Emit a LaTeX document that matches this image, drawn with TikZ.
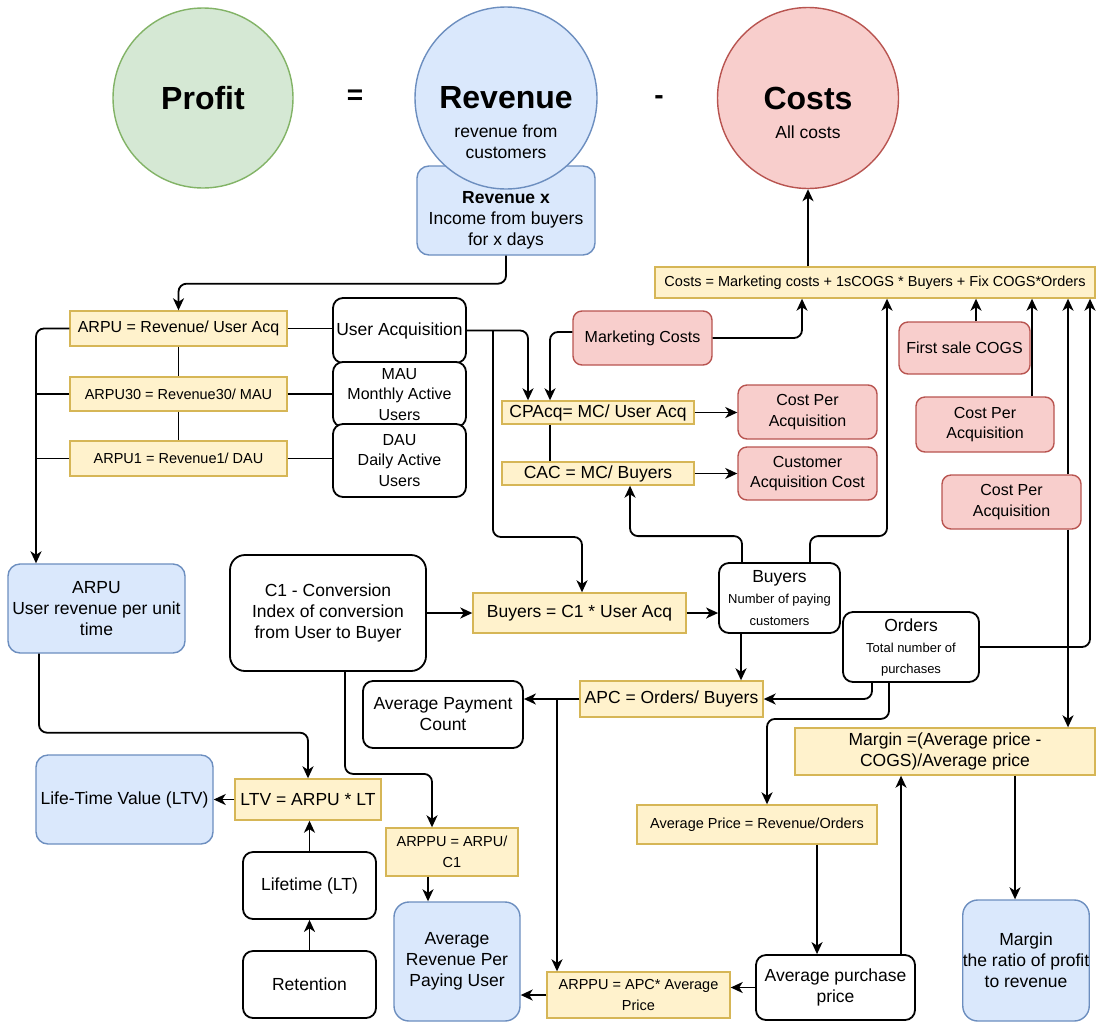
\documentclass[tikz,border=0pt]{standalone}
\usepackage{fontspec}
\setmainfont{Liberation Sans}
\usetikzlibrary{arrows.meta,calc,positioning}
\definecolor{grnfill}{HTML}{D5E8D4}
\definecolor{grnline}{HTML}{82B366}
\definecolor{blufill}{HTML}{DAE8FC}
\definecolor{bluline}{HTML}{6C8EBF}
\definecolor{redfill}{HTML}{F8CECC}
\definecolor{redline}{HTML}{B85450}
\definecolor{ylwfill}{HTML}{FFF2CC}
\definecolor{ylwline}{HTML}{D6B656}

\begin{document}
\begin{tikzpicture}[x=1pt,y=-1pt,
  base/.style={align=center,inner sep=0pt,font=\fontsize{17.5}{21}\selectfont},
  yel/.style={base,draw=ylwline,fill=ylwfill,line width=1.4pt},
  yelsm/.style={yel,font=\fontsize{14.5}{21}\selectfont},
  redbox/.style={base,draw=redline,fill=redfill,line width=1.4pt,rounded corners=9pt,font=\fontsize{16}{20.5}\selectfont},
  blubox/.style={base,draw=bluline,fill=blufill,line width=1.4pt,rounded corners=12pt},
  whtbox/.style={base,draw=black,fill=white,line width=1.8pt,rounded corners=10pt},
  ball/.style={circle,line width=1.4pt,inner sep=0pt},
  title/.style={base,font=\bfseries\fontsize{32}{38}\selectfont},
  wire/.style={line width=1.8pt,rounded corners=8pt},
  arr/.style={wire,-{Stealth[length=12pt,width=11pt,inset=3.5pt]}},
]
\useasboundingbox (0,0) rectangle (1099,1023);

% top equation
\node[blubox, minimum width=178pt, minimum height=89pt] (revx) at (506,210.5) {};
\node[base] (revxtxt) at (506,220) {\textbf{Revenue x}\\Income from buyers\\for x days};
\node[ball, draw=grnline, fill=grnfill, minimum size=180pt] (profit) at (203,98) {};
\node[ball, draw=bluline, fill=blufill, minimum size=182pt] (revenue) at (506,98) {};
\node[ball, draw=redline, fill=redfill, minimum size=181pt] (costs) at (808,98) {};
\node[title] (profittxt) at (203,98) {Profit};
\node[title] (revenuetxt) at (506,98) {Revenue};
\node[base] (revenuesub) at (506,142) {revenue from\\customers};
\node[title] (coststxt) at (808,98) {Costs};
\node[base] (costssub) at (808,132) {All costs};
\node[base, font=\bfseries\fontsize{28}{30}\selectfont] (eqsign) at (355,97) {=};
\node[base, font=\bfseries\fontsize{28}{30}\selectfont] (minussign) at (659,100) {-};

% formula boxes
\node[yel, font=\fontsize{16}{21}\selectfont, minimum width=217pt, minimum height=35pt] (arpu) at (178.5,328.5) {ARPU = Revenue/ User Acq};
\node[yelsm, minimum width=217pt, minimum height=34pt] (arpu30) at (178.5,394) {ARPU30 = Revenue30/ MAU};
\node[yelsm, minimum width=217pt, minimum height=35pt] (arpu1) at (178.5,458.5) {ARPU1 = Revenue1/ DAU};
\node[yel, font=\fontsize{14.5}{17}\selectfont, minimum width=440pt, minimum height=31pt] (costsF) at (875,282.5) {Costs = Marketing costs + 1sCOGS * Buyers + Fix COGS*Orders};
\node[yel, minimum width=192pt, minimum height=23pt] (cpacq) at (598,412.5) {CPAcq= MC/ User Acq};
\node[yel, minimum width=192pt, minimum height=23pt] (cac) at (598,473.5) {CAC = MC/ Buyers};
\node[yel, minimum width=213pt, minimum height=40pt] (buyersF) at (579.5,613) {Buyers = C1 * User Acq};
\node[yel, minimum width=183pt, minimum height=36pt] (apc) at (671.5,699) {APC = Orders/ Buyers};
\node[yel, minimum width=146pt, minimum height=41pt] (ltvF) at (308,799.5) {LTV = ARPU * LT};
\node[yelsm, minimum width=132pt, minimum height=48pt] (arppuA) at (452,852) {ARPPU = ARPU/\\C1};
\node[yelsm, minimum width=183pt, minimum height=46pt] (arppuB) at (638.5,995) {ARPPU = APC* Average\\Price};
\node[yelsm, minimum width=240pt, minimum height=39pt] (avgPrice) at (757,824.5) {Average Price = Revenue/Orders};
\node[yel, minimum width=300pt, minimum height=47pt] (margin) at (945,751.5) {Margin =(Average price -\\COGS)/Average price};

% cost items
\node[redbox, minimum width=139pt, minimum height=54pt] (mc) at (642.5,338) {Marketing Costs};
\node[redbox, minimum width=139pt, minimum height=54pt] (cpa1) at (807.5,412) {Cost Per\\Acquisition};
\node[redbox, minimum width=139pt, minimum height=53pt] (cacR) at (807.5,473.5) {Customer\\Acquisition Cost};
\node[redbox, minimum width=131pt, minimum height=52pt] (fsc) at (964.5,348) {First sale COGS};
\node[redbox, minimum width=138pt, minimum height=55pt] (cpa2) at (985,424.5) {Cost Per\\Acquisition};
\node[redbox, minimum width=139pt, minimum height=54pt] (cpa3) at (1011.5,502) {Cost Per\\Acquisition};

% results
\node[blubox, minimum width=177pt, minimum height=89pt] (arpuB) at (96.5,608.5) {ARPU\\User revenue per unit\\time};
\node[blubox, minimum width=177pt, minimum height=89pt] (ltvB) at (124.5,799.5) {Life-Time Value (LTV)};
\node[blubox, rounded corners=15pt, minimum width=126pt, minimum height=119pt] (arppuU) at (457,961.5) {Average\\Revenue Per\\Paying User};
\node[blubox, rounded corners=15pt, minimum width=126pt, minimum height=121pt] (marginB) at (1026,960.5) {Margin\\the ratio of profit\\to revenue};

% inputs
\node[whtbox, minimum width=133pt, minimum height=65pt] (ua) at (399.5,330.5) {User Acquisition};
\node[whtbox, font=\fontsize{16}{20.5}\selectfont, minimum width=133pt, minimum height=65pt] (mau) at (399.5,394.5) {MAU\\Monthly Active\\Users};
\node[whtbox, font=\fontsize{16}{20.5}\selectfont, minimum width=133pt, minimum height=73pt] (dau) at (399.5,460.5) {DAU\\Daily Active\\Users};
\node[whtbox, rounded corners=15pt, minimum width=196pt, minimum height=116pt] (c1) at (328,613) {C1 - Conversion\\Index of conversion\\from User to Buyer};
\node[whtbox, font=\fontsize{13}{21.5}\selectfont, minimum width=121pt, minimum height=70pt] (buyers) at (779.5,598) {{\fontsize{17.5}{21}\selectfont Buyers}\\Number of paying\\customers};
\node[whtbox, font=\fontsize{13}{21}\selectfont, minimum width=136pt, minimum height=70pt] (orders) at (911,647) {{\fontsize{17.5}{21}\selectfont Orders}\\Total number of\\purchases};
\node[whtbox, minimum width=160pt, minimum height=67pt] (apcount) at (443,714.5) {Average Payment\\Count};
\node[whtbox, minimum width=133pt, minimum height=67pt] (lifetime) at (309.5,885.5) {Lifetime (LT)};
\node[whtbox, minimum width=133pt, minimum height=67pt] (retention) at (309.5,984.5) {Retention};
\node[whtbox, minimum width=159pt, minimum height=65pt] (avgPP) at (835.5,987.5) {Average purchase\\price};

% connectors
\draw[arr] (costs.south |- costsF.north) -- (costs.south);
\draw[arr] (revx.south) -- ++(0,28) -| (arpu.north);

\coordinate (bus) at ($(arpuB.north)+(-60.5,0)$);
\draw[arr] (arpu.west) -| (bus);
\draw[wire] (arpu30.west) -- (arpu30.west -| bus);
\draw[wire] (arpu1.west) -- (arpu1.west -| bus);
\draw[wire] (arpu.south) -- (arpu30.north);
\draw[wire] (arpu30.south) -- (arpu1.north);
\draw[wire] (arpu.east) -- (arpu.east -| ua.west);
\draw[wire] (arpu30.east) -- (arpu30.east -| mau.west);
\draw[wire] (arpu1.east) -- (arpu1.east -| dau.west);

\draw[arr] (ua.east) -| ([xshift=-70pt]cpacq.north);
\coordinate (uasplit) at ($(ua.east)+(26,0)$);
\draw[arr] (uasplit) -- ++(0,206.5) -| ([xshift=2.5pt]buyersF.north);

\draw[arr] ([yshift=6pt]mc.west) -| ([xshift=-48pt]cpacq.north);
\draw[arr] (mc.east) -| ([xshift=-73pt]costsF.south);
\draw[wire] ([xshift=-48pt]cpacq.south) -- ([xshift=-48pt]cac.north);
\draw[arr] (cpacq.east) -- (cpacq.east -| cpa1.west);
\draw[arr] (cac.east) -- (cac.east -| cacR.west);

\draw[arr] ([xshift=-37.5pt]buyers.north) -- ++(0,-26) -| ([xshift=32pt]cac.south);
\draw[arr] ([xshift=30.5pt]buyers.north) -- ++(0,-26) -| ([xshift=12pt]costsF.south);

\coordinate (fscup) at ($(fsc.north)+(11.5,0)$);
\draw[arr] (fscup) -- (fscup |- costsF.south);
\coordinate (cpa2up) at ($(cpa2.north)+(47,0)$);
\draw[arr] (cpa2up) -- (cpa2up |- costsF.south);
\coordinate (cpa3up) at ($(cpa3.north)+(56.5,0)$);
\draw[arr] (cpa3up) -- (cpa3up |- costsF.south);
\coordinate (cpa3dn) at ($(cpa3.south)+(56.5,0)$);
\draw[arr] (cpa3dn) -- (cpa3dn |- margin.north);
\draw[arr] (orders.east) -| ([xshift=215pt]costsF.south);

\draw[arr] (c1.east) -- (c1.east -| buyersF.west);
\draw[arr] (buyersF.east) -- (buyersF.east -| buyers.west);
\coordinate (buydn) at ($(buyers.south)+(-38.5,0)$);
\draw[arr] (buydn) -- (buydn |- apc.north);
\draw[arr] ([xshift=-39pt]orders.south) |- (apc.east);
\draw[arr] ([xshift=-22pt]orders.south) -- ++(0,36) -| ([xshift=10pt]avgPrice.north);
\draw[arr] (apc.west) -- (apc.west -| apcount.east);
\coordinate (apcbr) at ($(arppuB.north)+(-81.5,0)$);
\draw[arr] (apcbr |- apc.west) -- (apcbr);

\draw[arr] ([xshift=17pt]c1.south) -- ++(0,102) -| ([xshift=-20pt]arppuA.north);
\coordinate (arppudn) at ($(arppuA.south)+(-24,0)$);
\draw[arr] (arppudn) -- (arppudn |- arppuU.north);
\draw[arr] (arppuB.west) -- (arppuB.west -| arppuU.east);
\draw[arr] (avgPP.west) -- (avgPP.west -| arppuB.east);
\coordinate (apdn) at ($(avgPrice.south)+(60,0)$);
\draw[arr] (apdn) -- (apdn |- avgPP.north);
\coordinate (appup) at ($(avgPP.north)+(65.5,0)$);
\draw[arr] (appup) -- (appup |- margin.south);
\coordinate (mgdn) at ($(margin.south)+(70,0)$);
\draw[arr] (mgdn) -- (mgdn |- marginB.north);

\draw[arr] ([xshift=-57.5pt]arpuB.south) -- ++(0,79) -| (ltvF.north);
\draw[arr] (ltvF.west) -- (ltvF.west -| ltvB.east);
\draw[arr] (lifetime.north) -- (lifetime.north |- ltvF.south);
\draw[arr] (retention.north) -- (lifetime.south);
\end{tikzpicture}
\end{document}
